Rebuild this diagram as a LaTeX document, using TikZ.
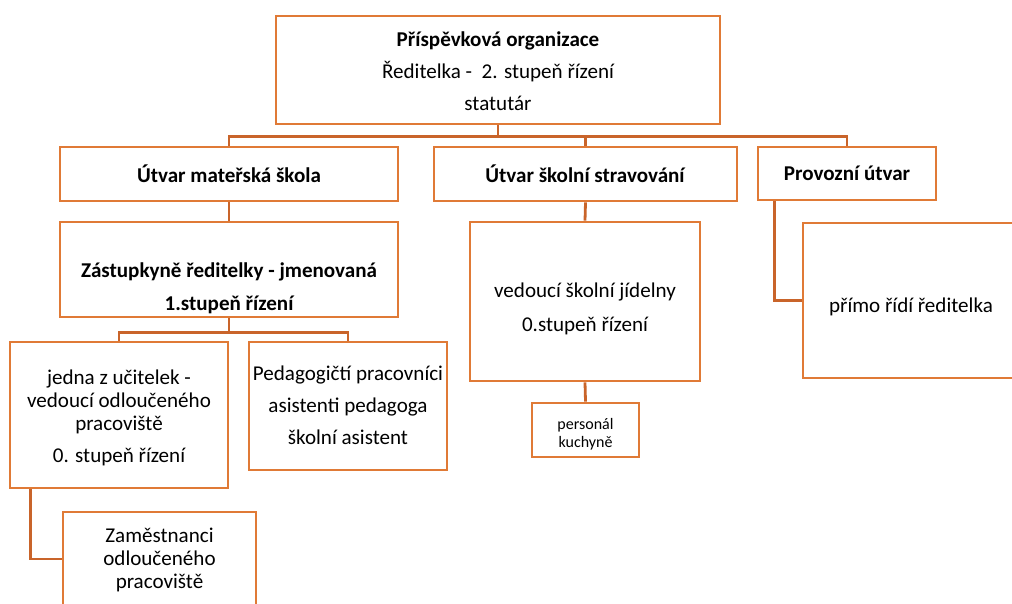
\documentclass[tikz,border=0pt]{standalone}
\usepackage{fontspec}
\setmainfont{Carlito}
\definecolor{boxc}{HTML}{E07A36}
\definecolor{connc}{HTML}{C9642A}
\begin{document}
\begin{tikzpicture}[x=0.75pt,y=-0.75pt,
  box/.style 2 args={draw=boxc,line width=2.1pt,fill=white,minimum width=#1*0.75pt,minimum height=#2*0.75pt,inner sep=0pt,rectangle},
  conn/.style={draw=connc,line width=2.1pt},
  txt/.style={align=center,inner sep=0pt,font=\fontsize{15.8}{24}\selectfont},
  txtb/.style={align=center,inner sep=0pt,font=\fontsize{15.8}{25}\selectfont\bfseries},
  txts/.style={align=center,inner sep=0pt,font=\fontsize{12}{13.5}\selectfont}]
\useasboundingbox (0,0) rectangle (1012,603);
\clip (0,0) rectangle (1012,603);
% boxes
\node[box={444}{108}] (top) at (498,70) {};
\node[box={338}{54}] (ms) at (229,174) {};
\node[box={303}{54}] (ss) at (585.5,174) {};
\node[box={178}{53}] (prov) at (847,173.5) {};
\node[box={338}{95}] (zast) at (229,269.5) {};
\node[box={230}{159}] (ved) at (585,301.5) {};
\node[box={107}{54}] (pers) at (585.5,430) {};
\node[box={240}{155}] (prim) at (923,300.5) {};
\node[box={218}{146}] (jedna) at (119,415) {};
\node[box={198}{128}] (ped) at (348,406) {};
\node[box={193}{94}] (zam) at (159.5,559) {};
% connectors
\draw[conn] (top.south) -- ++(0,11) -| (ms.north);
\draw[conn] (top.south) ++(0,11) -| (ss.north);
\draw[conn] (top.south) ++(0,11) -| (prov.north);
\draw[conn] (ms.south) -- (zast.north);
\draw[conn] (ss.south) -- (ved.north);
\draw[conn] (ved.south) -- (pers.north);
\draw[conn] (zast.south) -- ++(0,14) -| (jedna.north);
\draw[conn] (zast.south) ++(0,14) -| (ped.north);
\draw[conn] (prov.south west) ++(18,0) |- (prim.west);
\draw[conn] (jedna.south west) ++(22,0) |- (zam.west);
% texts
\node[txt] (topT) at (498,71) {\textbf{Příspěvková organizace}\\Ředitelka -\ \ 2. stupeň řízení\\statutár};
\node[txtb] (msT) at (229,174) {Útvar mateřská škola};
\node[txtb] (ssT) at (585,174) {Útvar školní stravování};
\node[txtb] (provT) at (847,173) {Provozní útvar};
\node[txtb] (zastT) at (229,288) {Zástupkyně ředitelky - jmenovaná\\1.stupeň řízení};
\node[txt,font=\fontsize{15.8}{25}\selectfont] (vedT) at (585,309) {vedoucí školní jídelny\\0.stupeň řízení};
\node[txts] (persT) at (585.5,434) {personál\\kuchyně};
\node[txt] (primT) at (911,307) {přímo řídí ředitelka};
\node[txt,font=\fontsize{15.8}{17.25}\selectfont] (jednaT) at (119,418) {jedna z učitelek -\\vedoucí odloučeného\\pracoviště\\[7pt]0. stupeň řízení};
\node[txt] (pedT) at (348,405) {Pedagogičtí pracovníci\\asistenti pedagoga\\školní asistent};
\node[txt,font=\fontsize{15.8}{17.25}\selectfont] (zamT) at (159.5,560) {Zaměstnanci\\odloučeného\\pracoviště};
\end{tikzpicture}
\end{document}
